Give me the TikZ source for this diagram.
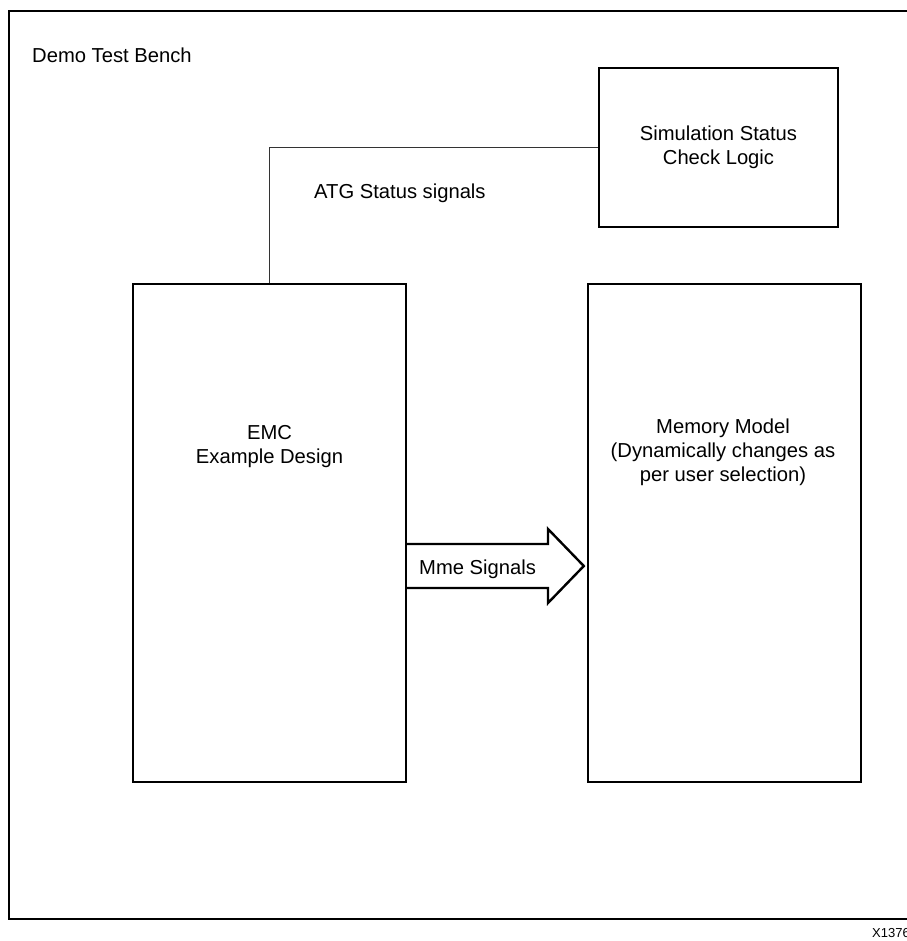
\documentclass[tikz,border=0pt]{standalone}
\usepackage{fontspec}
\setmainfont{Liberation Sans}
\usetikzlibrary{calc}
\begin{document}
\begin{tikzpicture}[x=1pt,y=-1pt,
  blockbox/.style={draw=black,line width=2.4pt,rectangle,inner sep=0pt,minimum width=#1},
  wire/.style={draw=black!80,line width=1.1pt},
  lbl/.style={font=\fontsize{20.2}{24}\selectfont,inner sep=0pt,align=center},
  fatarrow/.style={draw=black,line width=2.4pt,fill=white,line join=miter}]
\useasboundingbox (0,0) rectangle (906,941);
% outer frame (right side lies beyond the picture)
\draw[line width=2.4pt] (930,11) -- (9,11) -- (9,919) -- (930,919);
\node[lbl,anchor=base west] (title) at (32,63) {Demo Test Bench};
% boxes
\node[blockbox=239pt,minimum height=159pt] (sim) at (718.5,147.5) {};
\node[lbl] (simtxt) at (sim.center) {Simulation Status\\Check Logic};
\node[blockbox=273pt,minimum height=498pt] (emc) at (269.5,533) {};
\node[lbl] (emctxt) at (269.5,447) {EMC\\Example Design};
\node[blockbox=273pt,minimum height=498pt] (mem) at (724.5,533) {};
\node[lbl] (memtxt) at (723,452) {Memory Model\\(Dynamically changes as\\per user selection)};
% status connector
\draw[wire] (emc.north) |- (sim.west);
\node[lbl,anchor=base west] (atg) at (314,199) {ATG Status signals};
% block arrow
\coordinate (a0) at ($(emc.east |- 0,544)$);
\coordinate (a1) at ($(emc.east |- 0,588)$);
\coordinate (tip) at ($(mem.west |- 0,566)+(-3,0)$);
\draw[fatarrow] (a0) -- (548,544) -- (548,529) -- (tip) -- (548,603) -- (548,588) -- (a1);
\node[lbl,anchor=base west] (mme) at (419,574) {Mme Signals};
% figure id (cut off by the right edge)
\node[font=\fontsize{13}{15}\selectfont,inner sep=0pt,anchor=base west] (fid) at (872,937) {X1376};
\end{tikzpicture}
\end{document}
